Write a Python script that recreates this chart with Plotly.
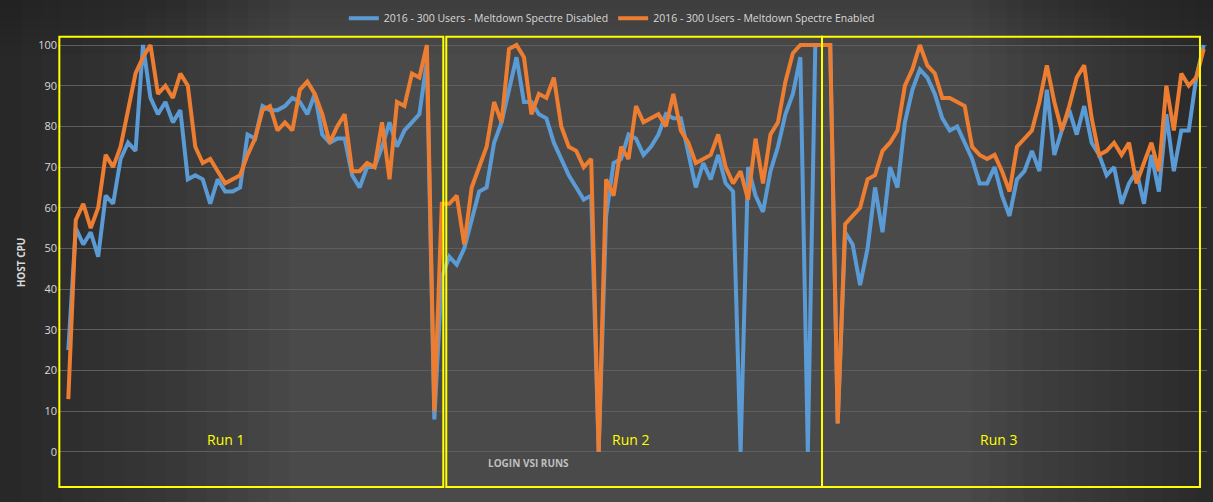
import plotly.graph_objects as go

# host CPU samples across the three Login VSI runs
disabled = [25, 55, 51, 54, 48, 63, 61, 72, 76, 74,
            100, 87, 83, 86, 81, 84, 67, 68, 67, 61,
            67, 64, 64, 65, 78, 77, 85, 84, 84, 85,
            87, 86, 83, 88, 78, 76, 77, 77, 68, 65,
            70, 70, 75, 81, 75, 79, 81, 83, 96, 8,
            43, 48, 46, 50, 57, 64, 65, 76, 81, 89,
            97, 86, 86, 83, 82, 76, 72, 68, 65, 62,
            63, 0, 58, 71, 72, 78, 77, 73, 75, 78,
            83, 82, 82, 74, 65, 71, 67, 73, 66, 64,
            0, 70, 63, 59, 69, 75, 83, 88, 97, 0,
            100, 100, 100, 7, 54, 51, 41, 50, 65, 54,
            70, 65, 81, 89, 94, 92, 88, 82, 79, 80,
            76, 72, 66, 66, 70, 63, 58, 67, 69, 74,
            69, 89, 73, 79, 84, 78, 85, 76, 73, 68,
            70, 61, 66, 69, 61, 73, 64, 83, 69, 79,
            79, 92, 100]

enabled = [13, 57, 61, 55, 60, 73, 70, 75, 84, 93,
           97, 100, 88, 90, 87, 93, 90, 75, 71, 72,
           69, 66, 67, 68, 73, 77, 84, 85, 79, 81,
           79, 89, 91, 88, 83, 76, 80, 83, 69, 69,
           71, 70, 81, 67, 86, 85, 93, 92, 100, 10,
           61, 61, 63, 51, 65, 70, 75, 86, 81, 99,
           100, 97, 83, 88, 87, 92, 80, 75, 74, 70,
           72, 0, 67, 63, 75, 72, 85, 81, 82, 83,
           80, 88, 79, 76, 71, 72, 73, 78, 70, 66,
           69, 62, 77, 66, 78, 81, 91, 98, 100, 100,
           100, 100, 100, 7, 56, 58, 60, 67, 68, 74,
           76, 79, 90, 94, 100, 95, 93, 87, 87, 86,
           85, 75, 73, 72, 73, 69, 64, 75, 77, 79,
           86, 95, 86, 79, 85, 92, 95, 82, 73, 74,
           76, 73, 76, 66, 71, 76, 69, 90, 79, 93,
           90, 92, 99]

series_names = ["2016 - 300 Users - Meltdown Spectre Disabled",
                "2016 - 300 Users - Meltdown Spectre Enabled"]
run_labels = ["Run 1", "Run 2", "Run 3"]
y_ticks = list(range(0, 101, 10))

x = list(range(len(enabled)))

W, H = 1213, 502
ML, MR, MT, MB = 58, 6, 35, 12

fig = go.Figure()
fig.add_trace(go.Scatter(x=x, y=disabled, mode="lines", name=series_names[0],
                         line=dict(color="#5B9BD5", width=4)))
fig.add_trace(go.Scatter(x=x, y=enabled, mode="lines", name=series_names[1],
                         line=dict(color="#ED7D31", width=4)))

# darker edges like the original's radial background
pw, ph = W - ML - MR, H - MT - MB
left, right = -ML / pw, 1 + MR / pw
bottom, top = -MB / ph, 1 + MT / ph
shapes = []
for k in range(1, 15):
    shapes.append(dict(type="rect", xref="paper", yref="paper", layer="below",
                       x0=left, x1=left + k * 0.018, y0=bottom, y1=top,
                       line_width=0, fillcolor="rgba(0,0,0,0.035)"))
    shapes.append(dict(type="rect", xref="paper", yref="paper", layer="below",
                       x0=right - k * 0.015, x1=right, y0=bottom, y1=top,
                       line_width=0, fillcolor="rgba(0,0,0,0.03)"))
for k in range(1, 7):
    shapes.append(dict(type="rect", xref="paper", yref="paper", layer="below",
                       x0=left, x1=right, y0=top - k * 0.02, y1=top,
                       line_width=0, fillcolor="rgba(0,0,0,0.025)"))

# yellow boxes around each run
boxes = [(-1.2, 50.2), (50.6, 100.9), (100.9, 151.5)]
for x0, x1 in boxes:
    shapes.append(dict(type="rect", xref="x", yref="y", x0=x0, x1=x1, y0=-8.6, y1=102,
                       line=dict(color="#FFFF00", width=2), fillcolor="rgba(0,0,0,0)"))

label_x = [21, 75.2, 124.5]
annotations = []
for lx, txt in zip(label_x, run_labels):
    annotations.append(dict(x=lx, y=3, xref="x", yref="y", text=txt, showarrow=False,
                            font=dict(color="#FFFF00", size=14, family="Liberation Sans Narrow, Open Sans")))
annotations.append(dict(x=61.6, y=-2.6, xref="x", yref="y", text="<b>LOGIN VSI RUNS</b>",
                        showarrow=False,
                        font=dict(color="#bfbfbf", size=10, family="Open Sans")))

fig.update_layout(
    width=W, height=H,
    paper_bgcolor="#4a4a4a", plot_bgcolor="rgba(0,0,0,0)",
    margin=dict(l=ML, r=MR, t=MT, b=MB, autoexpand=False),
    font=dict(family="Liberation Sans Narrow, Open Sans", color="#d9d9d9", size=11),
    legend=dict(orientation="h", x=0.482, xanchor="center", y=1.037, yanchor="middle",
                bgcolor="rgba(0,0,0,0)", font=dict(size=10.5, color="#d9d9d9"),
                itemwidth=30),
    xaxis=dict(range=[-1.38, 152.44], showticklabels=False, showgrid=False,
               zeroline=False, showline=False, automargin=False),
    yaxis=dict(range=[-9.34, 102.46], tickvals=y_ticks, showgrid=True,
               gridcolor="#5e5e5e", gridwidth=1, zeroline=False, showline=False,
               automargin=False,
               tickfont=dict(size=11, color="#d9d9d9", family="Open Sans"),
               title=dict(text="<b>HOST CPU</b>", standoff=10,
                          font=dict(size=10, color="#d9d9d9", family="Open Sans"))),
    shapes=shapes,
    annotations=annotations,
)

# drop the page's default body margin so the chart sits at the window corner
fig.write_html("out.html", config={"displayModeBar": False},
               post_script="document.body.style.margin='0px';")
